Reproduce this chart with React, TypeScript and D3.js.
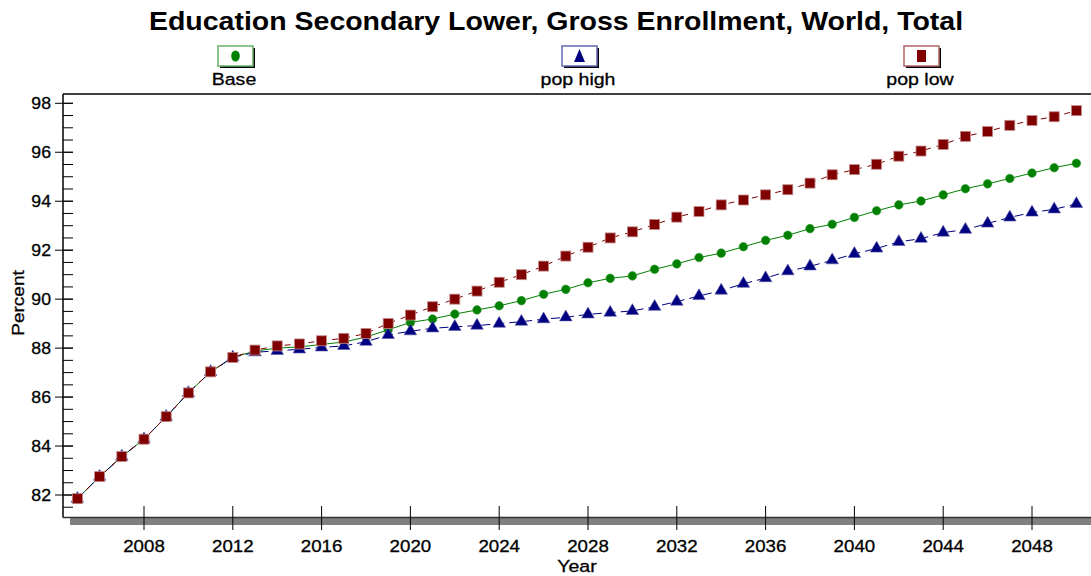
import React from "react";
import * as d3 from "d3";

const years: number[] = d3.range(2005, 2051);

const baseValues: number[] = [
  81.85, 82.75, 83.57, 84.28, 85.2, 86.17, 87.03, 87.62, 87.88, 88.0,
  88.05, 88.15, 88.25, 88.45, 88.75, 89.05, 89.19, 89.39, 89.56, 89.73,
  89.94, 90.2, 90.4, 90.67, 90.85, 90.95, 91.22, 91.44, 91.7, 91.88,
  92.14, 92.4, 92.61, 92.88, 93.06, 93.34, 93.61, 93.85, 94.01, 94.26,
  94.51, 94.71, 94.93, 95.15, 95.37, 95.55,
];

const popHighValues: number[] = [
  81.85, 82.75, 83.57, 84.28, 85.2, 86.17, 87.03, 87.62, 87.83, 87.89,
  87.95, 88.03, 88.09, 88.26, 88.54, 88.69, 88.81, 88.87, 88.92, 89.0,
  89.08, 89.18, 89.26, 89.38, 89.45, 89.52, 89.69, 89.9, 90.13, 90.35,
  90.63, 90.86, 91.14, 91.34, 91.59, 91.85, 92.07, 92.34, 92.47, 92.72,
  92.84, 93.09, 93.34, 93.54, 93.67, 93.89,
];

const popLowValues: number[] = [
  81.85, 82.75, 83.57, 84.28, 85.2, 86.17, 87.03, 87.62, 87.92, 88.09,
  88.17, 88.3, 88.4, 88.6, 89.01, 89.35, 89.69, 90.0, 90.33, 90.69,
  91.0, 91.35, 91.76, 92.12, 92.5, 92.75, 93.05, 93.35, 93.58, 93.85,
  94.05, 94.26, 94.47, 94.74, 95.08, 95.29, 95.51, 95.84, 96.05, 96.32,
  96.65, 96.85, 97.1, 97.3, 97.45, 97.7,
];

const xTickYears: number[] = [2008, 2012, 2016, 2020, 2024, 2028, 2032, 2036, 2040, 2044, 2048];
const yMajorTicks: number[] = [82, 84, 86, 88, 90, 92, 94, 96, 98];
const yMinorTicks: number[] = d3.range(81.5, 98.01, 0.5);

const seriesNames: string[] = ["Base", "pop high", "pop low"];
const seriesColors: string[] = ["#008000", "#000080", "#800000"];
const seriesLight: string[] = ["#66b366", "#6666b3", "#b36666"];

const W = 1091;
const H = 576;
const FONT = "'Liberation Sans', Arial, sans-serif";

function SText(props: {
  x: number;
  y: number;
  sx: number;
  size: number;
  bold?: boolean;
  anchor?: string;
  children: React.ReactNode;
}) {
  const { x, y, sx, size, bold, anchor, children } = props;
  return (
    <g transform={`translate(${x},${y}) scale(${sx},1)`}>
      <text
        x={0}
        y={0}
        textAnchor={anchor ?? "middle"}
        fontSize={size}
        fontWeight={bold ? "bold" : "normal"}
        fill="#000"
        stroke={bold ? "none" : "#000"}
        strokeWidth={bold ? 0 : 0.3}
      >
        {children}
      </text>
    </g>
  );
}

export default function App() {
  const left = 63;
  const top = 94;
  const bottom = 517.5;
  const right = 1091;

  const x = d3.scaleLinear().domain([2028, 2048]).range([588, 1032]);
  const y = d3.scaleLinear().domain([82, 98]).range([495, 103.3]);

  const allSeries = [baseValues, popHighValues, popLowValues];

  const line = (vals: number[]) =>
    d3
      .line<number>()
      .x((_, i) => x(years[i]))
      .y((d) => y(d))(vals) as string;

  const dashes = [null, "9,5", "6,6"];

  const marker = (s: number, cx: number, cy: number, key: string | number) => {
    if (s === 0) {
      return (
        <circle key={key} cx={cx} cy={cy} r={4.3} fill="#008000" stroke="#3a9a3a" strokeWidth={0.6} />
      );
    }
    if (s === 1) {
      const sym = d3.symbol().type(d3.symbolTriangle).size(68)();
      return (
        <path key={key} d={sym as string} transform={`translate(${cx},${cy})`} fill="#000080" stroke="#5a5aa8" strokeWidth={0.6} />
      );
    }
    return (
      <rect key={key} x={cx - 5} y={cy - 5} width={10} height={10} fill="#800000" stroke="#c08a8a" strokeWidth={0.8} />
    );
  };

  const legendMarker = (s: number, cx: number, cy: number) => {
    if (s === 0) {
      return <ellipse cx={cx} cy={cy} rx={4.3} ry={5.6} fill="#008000" />;
    }
    if (s === 1) {
      return (
        <path
          d={`M${cx},${cy - 7}L${cx + 5.5},${cy + 6}L${cx - 5.5},${cy + 6}Z`}
          fill="#000080"
        />
      );
    }
    return <rect x={cx - 4.5} y={cy - 6} width={9} height={12} fill="#800000" />;
  };

  const legendX = [235, 579, 921];

  return (
    <svg
      width={W}
      height={H}
      style={{ position: "absolute", left: 0, top: 0, background: "#fff" }}
      fontFamily={FONT}
    >
      <rect x={0} y={0} width={W} height={H} fill="#fff" />
      <SText x={556} y={30} sx={1.14} size={25} bold>
        Education Secondary Lower, Gross Enrollment, World, Total
      </SText>

      {/* legend */}
      {seriesNames.map((name, s) => {
        const cx = legendX[s];
        return (
          <g key={name}>
            <rect x={cx - 17 + 2} y={46 + 2} width={35} height={20} fill="#000" />
            <rect x={cx - 17} y={46} width={35} height={20} fill="#fff" stroke={seriesLight[s]} strokeWidth={1.5} />
            {legendMarker(s, cx + 0.5, 56)}
            <SText x={cx - 1} y={85} sx={1.15} size={17}>
              {name}
            </SText>
          </g>
        );
      })}

      {/* plot frame */}
      <line x1={left} x2={right} y1={top} y2={top} stroke="#000" strokeWidth={1.5} />
      <line x1={left} x2={left} y1={top} y2={bottom} stroke="#000" strokeWidth={1.5} />
      <rect x={70} y={518} width={right - 70} height={7} fill="#808080" />
      <line x1={left} x2={right} y1={bottom} y2={bottom} stroke="#333" strokeWidth={1.5} />

      {/* y ticks */}
      {yMinorTicks.map((v) => (
        <line key={"mi" + v} x1={left} x2={left + 10} y1={y(v)} y2={y(v)} stroke="#000" strokeWidth={1} />
      ))}
      {yMajorTicks.map((v) => (
        <g key={"ma" + v}>
          <line x1={left - 8} x2={left + 10} y1={y(v)} y2={y(v)} stroke="#000" strokeWidth={1} />
          <SText x={51} y={y(v) + 6} sx={1.04} size={17} anchor="end">
            {v}
          </SText>
        </g>
      ))}

      {/* x ticks */}
      {xTickYears.map((yr) => (
        <g key={"xt" + yr}>
          <line x1={x(yr)} x2={x(yr)} y1={506} y2={530} stroke="#000" strokeWidth={1} />
          <SText x={x(yr)} y={552} sx={1.1} size={17}>
            {yr}
          </SText>
        </g>
      ))}

      <SText x={577} y={572} sx={1.15} size={17}>
        Year
      </SText>
      <g transform={`translate(24,303) rotate(-90)`}>
        <SText x={0} y={0} sx={1.12} size={17}>
          Percent
        </SText>
      </g>

      {/* series */}
      {allSeries.map((vals, s) => (
        <path
          key={"ln" + s}
          d={line(vals)}
          fill="none"
          stroke={seriesColors[s]}
          strokeWidth={1}
          strokeDasharray={dashes[s] ?? undefined}
        />
      ))}
      {[0, 1, 2].map((s) => (
        <g key={"mk" + s}>
          {allSeries[s].map((v, i) => marker(s, x(years[i]), y(v), i))}
        </g>
      ))}
    </svg>
  );
}
